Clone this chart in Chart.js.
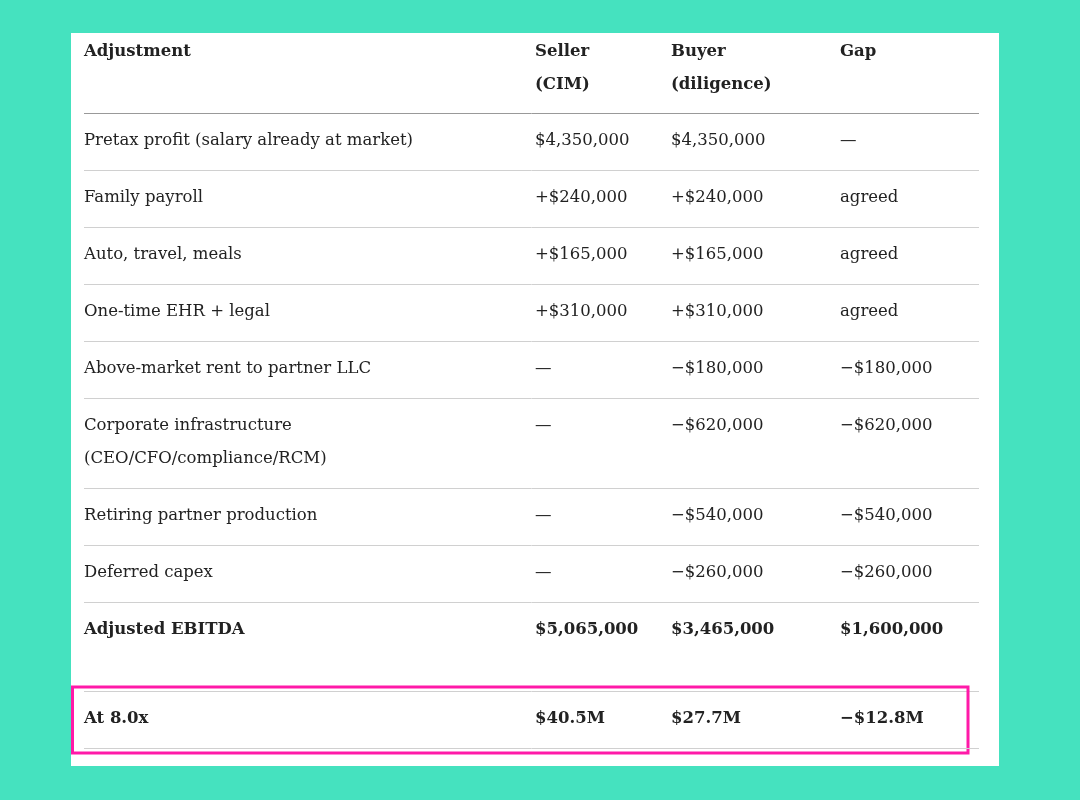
<!DOCTYPE html>
<html>
<head>
<meta charset="utf-8">
<script src="https://cdn.jsdelivr.net/npm/chart.js@4"></script>
<style>
body{margin:0;background:#45e2bf;width:1080px;height:800px;overflow:hidden}
#panel{position:absolute;left:71px;top:33px;width:928px;height:733px;background:#fff}
</style>
</head>
<body>
<div id="panel"><canvas id="tableChart" width="928" height="733"></canvas></div>
<script>
const headers=[["Adjustment"],["Seller","(CIM)"],["Buyer","(diligence)"],["Gap"]];
const adjustments=[
["Pretax profit (salary already at market)"],
["Family payroll"],
["Auto, travel, meals"],
["One-time EHR + legal"],
["Above-market rent to partner LLC"],
["Corporate infrastructure","(CEO/CFO/compliance/RCM)"],
["Retiring partner production"],
["Deferred capex"],
["Adjusted EBITDA"],
["At 8.0x"]
];
const seller=["$4,350,000","+$240,000","+$165,000","+$310,000","—","—","—","—","$5,065,000","$40.5M"];
const buyer=["$4,350,000","+$240,000","+$165,000","+$310,000","−$180,000","−$620,000","−$540,000","−$260,000","$3,465,000","$27.7M"];
const gap=["—","agreed","agreed","agreed","−$180,000","−$620,000","−$540,000","−$260,000","$1,600,000","−$12.8M"];
const boldRows=[8,9];

// layout
const colX=[13,464,600,769];
const lineH=33, rowPad=24, headerH=80, spacer=32;

const tablePlugin={
id:"table",
afterDraw(chart){
const {ctx,scales:{x,y}}=chart;
ctx.save();
ctx.textBaseline="middle";
ctx.fillStyle="#222";
const font=b=>(b?"bold ":"")+"16.5px 'DejaVu Serif'";
// header
ctx.font=font(true);
headers.forEach((h,c)=>h.forEach((t,i)=>ctx.fillText(t,x.getPixelForValue(colX[c]),y.getPixelForValue(19+i*lineH))));
ctx.strokeStyle="#999";ctx.lineWidth=1;
ctx.beginPath();ctx.moveTo(x.getPixelForValue(13),y.getPixelForValue(headerH)+.5);ctx.lineTo(x.getPixelForValue(908),y.getPixelForValue(headerH)+.5);ctx.stroke();
let top=headerH;
adjustments.forEach((lines,r)=>{
const b=boldRows.includes(r);
ctx.font=font(b);
ctx.fillStyle="#222";
const cells=[lines,[seller[r]],[buyer[r]],[gap[r]]];
cells.forEach((cl,c)=>cl.forEach((t,i)=>ctx.fillText(t,x.getPixelForValue(colX[c]),y.getPixelForValue(top+28+i*lineH))));
let h=rowPad+lines.length*lineH;
if(r===8)h+=spacer;
top+=h;
ctx.strokeStyle="#d0d0d0";
ctx.beginPath();ctx.moveTo(x.getPixelForValue(13),y.getPixelForValue(top)+.5);ctx.lineTo(x.getPixelForValue(908),y.getPixelForValue(top)+.5);ctx.stroke();
if(r===8){
ctx.strokeStyle="#ff1aa8";ctx.lineWidth=3;
ctx.strokeRect(x.getPixelForValue(1.5),y.getPixelForValue(top-4),x.getPixelForValue(897)-x.getPixelForValue(1.5),y.getPixelForValue(top+62)-y.getPixelForValue(top-4));
ctx.lineWidth=1;
}
});
ctx.restore();
}
};

new Chart(document.getElementById("tableChart"),{
type:"scatter",
data:{datasets:[{data:[],pointRadius:0}]},
options:{
responsive:false,
animation:false,
layout:{padding:0},
plugins:{legend:{display:false},tooltip:{enabled:false}},
scales:{
x:{type:"linear",min:0,max:928,display:false},
y:{type:"linear",min:0,max:733,reverse:true,display:false}
}
},
plugins:[tablePlugin]
});
</script>
</body>
</html>
